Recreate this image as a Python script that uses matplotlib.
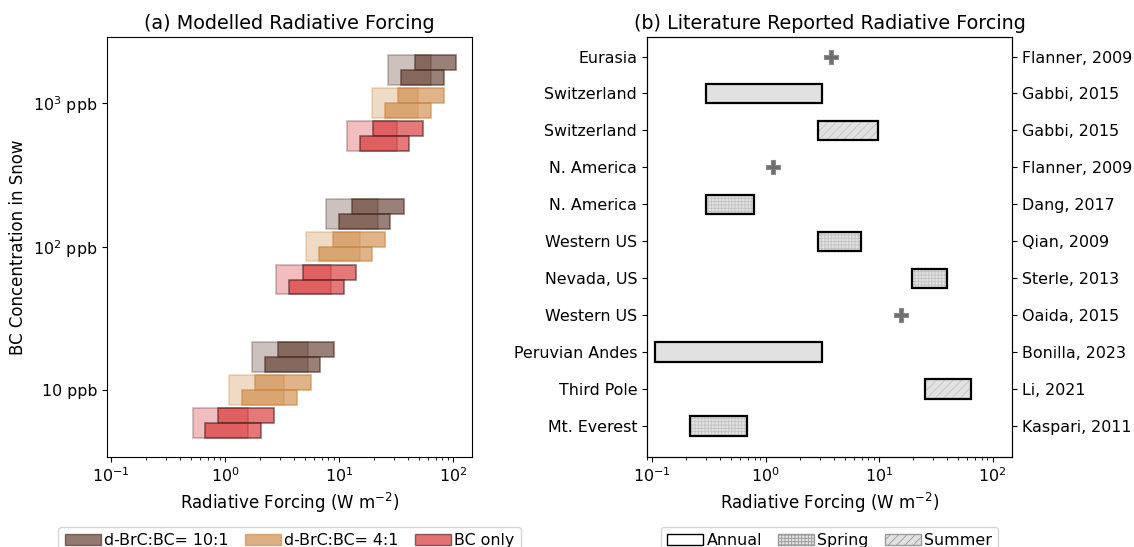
import numpy as np
import matplotlib
matplotlib.use('Agg')
from matplotlib import pyplot as plt
from matplotlib.patches import Patch

plt.rcParams['font.family'] = ['DejaVu Sans']
plt.rcParams['font.size'] = 11.4
plt.rcParams['hatch.linewidth'] = 0.6

# ---- (a) modelled forcing, W m-2 ----
conc_ppb = [10, 100, 1000]
groups = ['d-BrC:BC= 10:1', 'd-BrC:BC= 4:1', 'BC only']
# rows: 10:1, 4:1, BC only ; columns: 10, 100, 1000 ppb
full_lo = [[1.73, 7.6, 27.0], [1.08, 5.1, 19.3], [0.52, 2.8, 11.7]]
full_hi = [[5.3, 21.8, 64.0], [3.3, 15.1, 49.0], [1.58, 8.4, 32.0]]
upper_lo = [[2.9, 12.9, 46.0], [1.83, 8.8, 33.0], [0.87, 4.8, 19.9]]
upper_hi = [[8.9, 36.6, 106.0], [5.6, 25.3, 82.0], [2.7, 14.1, 54.0]]
lower_lo = [[2.24, 9.9, 35.0], [1.4, 6.7, 25.0], [0.67, 3.64, 15.2]]
lower_hi = [[6.8, 28.0, 82.0], [4.3, 19.5, 64.0], [2.05, 10.9, 41.0]]

# ---- (b) literature values, W m-2 ----
regions = ['Eurasia', 'Switzerland', 'Switzerland', 'N. America', 'N. America',
           'Western US', 'Nevada, US', 'Western US', 'Peruvian Andes',
           'Third Pole', 'Mt. Everest']
refs = ['Flanner, 2009', 'Gabbi, 2015', 'Gabbi, 2015', 'Flanner, 2009',
        'Dang, 2017', 'Qian, 2009', 'Sterle, 2013', 'Oaida, 2015',
        'Bonilla, 2023', 'Li, 2021', 'Kaspari, 2011']
season = ['point', 'Annual', 'Summer', 'point', 'Spring', 'Spring', 'Spring',
          'point', 'Annual', 'Summer', 'Spring']
rf_low = [3.8, 0.3, 2.9, 1.17, 0.3, 2.9, 19.6, 15.7, 0.107, 25.2, 0.215]
rf_high = [3.8, 3.15, 9.7, 1.17, 0.79, 6.95, 39.8, 15.7, 3.15, 64.7, 0.684]

base_cols = ['#5a3325', 'peru', '#d62728']
edge_cols = ['#4a2a20', 'peru', '#4a2222']
offsets = [0.229, 0.0, -0.229]
h = 0.1035

fig = plt.figure(figsize=(11.34, 5.47), dpi=100)
ax = fig.add_axes([0.0944, 0.1645, 0.3219, 0.768])

for g in range(3):
    for k, c in enumerate(conc_ppb):
        yc = np.log10(c) + offsets[g]
        ax.barh(yc, full_hi[g][k] - full_lo[g][k], left=full_lo[g][k], height=2 * h,
                color=base_cols[g], alpha=0.3, edgecolor=edge_cols[g], linewidth=1.2)
        ax.barh(yc + h / 2, upper_hi[g][k] - upper_lo[g][k], left=upper_lo[g][k], height=h,
                color=base_cols[g], alpha=0.62, edgecolor=edge_cols[g], linewidth=1.2)
        ax.barh(yc - h / 2, lower_hi[g][k] - lower_lo[g][k], left=lower_lo[g][k], height=h,
                color=base_cols[g], alpha=0.62, edgecolor=edge_cols[g], linewidth=1.2)

ax.set_xscale('log')
ax.set_xlim(0.092, 146)
ax.set_ylim(0.535, 3.46)
ax.set_yticks([1, 2, 3])
ax.set_yticklabels(['10 ppb', '$10^2$ ppb', '$10^3$ ppb'])
ax.set_xlabel('Radiative Forcing (W m$^{-2}$)', fontsize=12)
ax.set_ylabel('BC Concentration in Snow', fontsize=12)
ax.set_title('(a) Modelled Radiative Forcing', fontsize=13.8)

handles = [Patch(facecolor=base_cols[g], alpha=0.65, edgecolor=edge_cols[g], label=groups[g])
           for g in range(3)]
ax.legend(handles=handles, loc='upper center', bbox_to_anchor=(0.5, -0.148), ncol=3,
          handletextpad=0.2, columnspacing=1.0, handlelength=2.3)

# ---- right panel ----
ax2 = fig.add_axes([0.5705, 0.1645, 0.3219, 0.768])
ypos = 10 - np.arange(len(regions))
hatch_of = {'Annual': '', 'Spring': '+++++', 'Summer': '////'}
for i in range(len(regions)):
    if season[i] == 'point':
        ax2.plot(rf_low[i], ypos[i], marker='P', color='#6e6e6e', markersize=10,
                 markeredgecolor='#8a8a8a', markeredgewidth=0.8)
    else:
        ax2.barh(ypos[i], rf_high[i] - rf_low[i], left=rf_low[i], height=0.52,
                 color='#e1e1e1', hatch=hatch_of[season[i]], edgecolor='#c2c2c2', linewidth=0)
        ax2.barh(ypos[i], rf_high[i] - rf_low[i], left=rf_low[i], height=0.52,
                 fill=False, edgecolor='black', linewidth=1.6)

ax2.set_xscale('log')
ax2.set_xlim(0.09, 148)
ax2.set_ylim(-0.84, 10.53)
ax2.set_yticks(ypos)
ax2.set_yticklabels(regions)
ax2.set_xlabel('Radiative Forcing (W m$^{-2}$)', fontsize=12)
ax2.set_title('(b) Literature Reported Radiative Forcing', fontsize=13.8)

axr = ax2.twinx()
axr.set_ylim(ax2.get_ylim())
axr.set_yticks(ypos)
axr.set_yticklabels(refs)

handles2 = [Patch(facecolor='white', edgecolor='black', label='Annual'),
            Patch(facecolor='#e1e1e1', edgecolor='#9a9a9a', hatch='+++++', label='Spring'),
            Patch(facecolor='#e1e1e1', edgecolor='#9a9a9a', hatch='////', label='Summer')]
ax2.legend(handles=handles2, loc='upper center', bbox_to_anchor=(0.5, -0.148), ncol=3,
           handletextpad=0.2, columnspacing=1.0, handlelength=2.3)

plt.savefig('out.png', dpi=100)
